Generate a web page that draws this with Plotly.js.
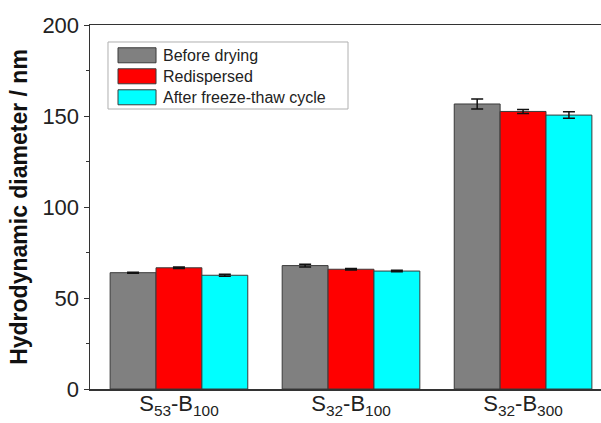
<!DOCTYPE html>
<html>
<head>
<meta charset="utf-8">
<script src="https://cdn.plot.ly/plotly-3.0.1.min.js"></script>
<style>html,body{margin:0;padding:0;background:#fff;}#chart{width:601px;height:423px;}</style>
</head>
<body>
<div id="chart"></div>
<script>
const categories = ["S<sub>53</sub>-B<sub>100</sub>", "S<sub>32</sub>-B<sub>100</sub>", "S<sub>32</sub>-B<sub>300</sub>"];
const seriesNames = ["Before drying", "Redispersed", "After freeze-thaw cycle"];
const beforeDrying = [63.9, 67.8, 156.6];
const beforeDryingErr = [0.3, 0.8, 2.7];
const redispersed = [66.6, 65.8, 152.5];
const redispersedErr = [0.4, 0.4, 1.1];
const afterFreezeThaw = [62.5, 64.8, 150.5];
const afterFreezeThawErr = [0.5, 0.4, 1.8];
const yTicks = [0, 50, 100, 150, 200];

const colors = ["#808080", "#ff0000", "#00ffff"];
const values = [beforeDrying, redispersed, afterFreezeThaw];
const errs = [beforeDryingErr, redispersedErr, afterFreezeThawErr];
const xIdx = categories.map((c, i) => i);

const traces = values.map((v, k) => ({
  type: "bar",
  name: seriesNames[k],
  x: xIdx,
  y: v,
  marker: {color: colors[k], line: {color: "#3a3a3a", width: 1}},
  error_y: {type: "data", array: errs[k], visible: true, color: "#111", thickness: 1.5, width: 6},
  showlegend: false
}));

const FONT = "Liberation Sans, Arial, Helvetica, sans-serif";

// manual legend (box, swatches, labels) in paper coordinates
const shapes = [{
  type: "rect", xref: "paper", yref: "paper",
  x0: 0.0352, x1: 0.5049, y0: 0.7692, y1: 0.9533,
  line: {color: "#b0b0b0", width: 1}, fillcolor: "rgba(0,0,0,0)"
}];
const annotations = [];
const rowTop = 0.9533 - 0.0165;
const rowStep = 0.0577;
seriesNames.forEach((n, k) => {
  const yc = rowTop - 0.0200 - k * rowStep;
  shapes.push({
    type: "rect", xref: "paper", yref: "paper",
    x0: 0.0548, x1: 0.1292, y0: yc - 0.0206, y1: yc + 0.0206,
    line: {color: "#3a3a3a", width: 1}, fillcolor: colors[k]
  });
  annotations.push({
    xref: "paper", yref: "paper", x: 0.1389, y: yc, xanchor: "left", yanchor: "middle",
    text: n, showarrow: false, font: {family: FONT, size: 16, color: "#222"}
  });
});

const layout = {
  width: 601, height: 423,
  margin: {l: 90, r: 0, t: 25, b: 34},
  paper_bgcolor: "#fff", plot_bgcolor: "#fff",
  barmode: "group", bargap: 0.2, bargroupgap: 0,
  font: {family: FONT, color: "#222"},
  xaxis: {
    range: [-0.517, 2.453],
    tickmode: "array", tickvals: xIdx, ticktext: categories,
    showline: true, linecolor: "#333", linewidth: 1.5, mirror: true,
    ticks: "", showgrid: false, zeroline: false,
    ticklabelstandoff: -6,
    tickfont: {family: FONT, size: 22, color: "#222"}
  },
  yaxis: {
    range: [0, 200],
    tickmode: "array", tickvals: yTicks,
    ticks: "outside", ticklen: 5, tickwidth: 1, tickcolor: "#333",
    minor: {dtick: 25, ticks: "outside", ticklen: 3, tickcolor: "#333", showgrid: false},
    showline: true, linecolor: "#333", linewidth: 1.5,
    showgrid: false, zeroline: false,
    tickfont: {family: FONT, size: 22, color: "#222"},
    title: {text: "<b>Hydrodynamic diameter / nm</b>", font: {family: FONT, size: 23, color: "#111"}, standoff: 8}
  },
  shapes: shapes,
  annotations: annotations
};

Plotly.newPlot("chart", traces, layout, {displayModeBar: false, staticPlot: true});
</script>
</body>
</html>
